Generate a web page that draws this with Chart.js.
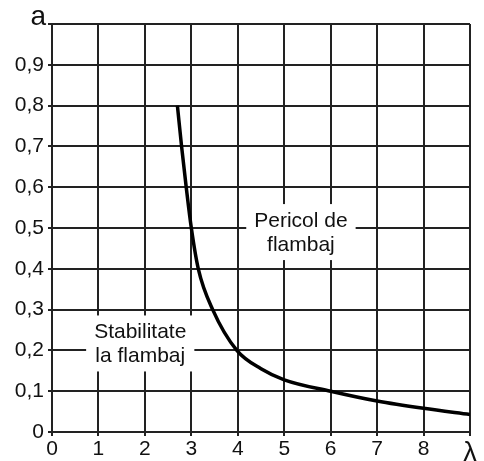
<!DOCTYPE html>
<html>
<head>
<meta charset="utf-8">
<script src="https://cdn.jsdelivr.net/npm/chart.js@4.4.0/dist/chart.umd.min.js"></script>
<style>
  html, body { margin: 0; padding: 0; background: #fff; }
  #wrap { width: 484px; height: 461px; }
</style>
</head>
<body>
<div id="wrap"><canvas id="c"></canvas></div>
<script>
// curve
const lambdaVals = [2.7, 2.79, 2.89, 3.0, 3.15, 3.46, 3.98, 4.5, 5, 6, 7, 8, 9];
const aVals = [0.8, 0.7, 0.6, 0.5, 0.4, 0.3, 0.2, 0.155, 0.128, 0.1, 0.076, 0.058, 0.043];

const xTickLabels = ["0", "1", "2", "3", "4", "5", "6", "7", "8", "λ"];
const yTickLabels = ["0", "0,1", "0,2", "0,3", "0,4", "0,5", "0,6", "0,7", "0,8", "0,9", ""];
const yAxisName = "a";

// text boxes on the plot: [lambda, a, lines]
const notes = [
    { x: 5.36, y: 0.49, lines: ["Pericol de", "flambaj"] },
    { x: 1.9, y: 0.217, lines: ["Stabilitate", "la flambaj"] }
];

const FONT = "'Liberation Sans', Arial, sans-serif";
const gridColor = "#222";

const notesPlugin = {
    id: "notes",
    afterDatasetsDraw(chart) {
        const ctx = chart.ctx;
        const xs = chart.scales.x, ys = chart.scales.y;
        ctx.save();
        ctx.font = "21px " + FONT;
        ctx.textAlign = "center";
        ctx.textBaseline = "middle";
        notes.forEach(n => {
            const cx = xs.getPixelForValue(n.x);
            const cy = ys.getPixelForValue(n.y);
            let w = 0;
            n.lines.forEach(l => { w = Math.max(w, ctx.measureText(l).width); });
            ctx.fillStyle = "#fff";
            ctx.fillRect(cx - w / 2 - 8, cy - 28, w + 16, 56);
            ctx.fillStyle = "#111";
            n.lines.forEach((l, i) => {
                ctx.fillText(l, cx, cy - 11 + i * 24);
            });
        });
        // y axis name at the top
        ctx.font = "28px " + FONT;
        ctx.textAlign = "right";
        ctx.textBaseline = "alphabetic";
        ctx.fillText(yAxisName, xs.left - 6, ys.top + 1);
        ctx.restore();
    }
};

new Chart(document.getElementById("c"), {
    type: "line",
    data: {
        datasets: [{
            data: lambdaVals.map((v, i) => ({ x: v, y: aVals[i] })),
            borderColor: "#000",
            borderWidth: 3.5,
            pointRadius: 0,
            cubicInterpolationMode: "monotone",
            fill: false
        }]
    },
    options: {
        responsive: true,
        maintainAspectRatio: false,
        animation: false,
        layout: { padding: { top: 24, right: 14, left: 0, bottom: 0 } },
        plugins: {
            legend: { display: false },
            tooltip: { enabled: false }
        },
        scales: {
            x: {
                type: "linear",
                min: 0,
                max: 9,
                grid: { color: gridColor, lineWidth: 2, tickLength: 4 },
                border: { color: gridColor, width: 2 },
                afterFit: (axis) => { axis.height = 29; },
                ticks: {
                    stepSize: 1,
                    color: "#111",
                    padding: 1,
                    maxRotation: 0,
                    font: (c) => c.tick && c.tick.value === 9
                        ? { size: 27, family: FONT }
                        : { size: 21, family: FONT },
                    callback: (v) => xTickLabels[v]
                }
            },
            y: {
                min: 0,
                max: 1,
                grid: { color: gridColor, lineWidth: 2, tickLength: 4 },
                border: { color: gridColor, width: 2 },
                afterFit: (axis) => { axis.width = 52; },
                ticks: {
                    stepSize: 0.1,
                    color: "#111",
                    padding: 4,
                    font: { size: 21, family: FONT },
                    callback: (v) => yTickLabels[Math.round(v * 10)]
                }
            }
        }
    },
    plugins: [notesPlugin]
});
</script>
</body>
</html>
